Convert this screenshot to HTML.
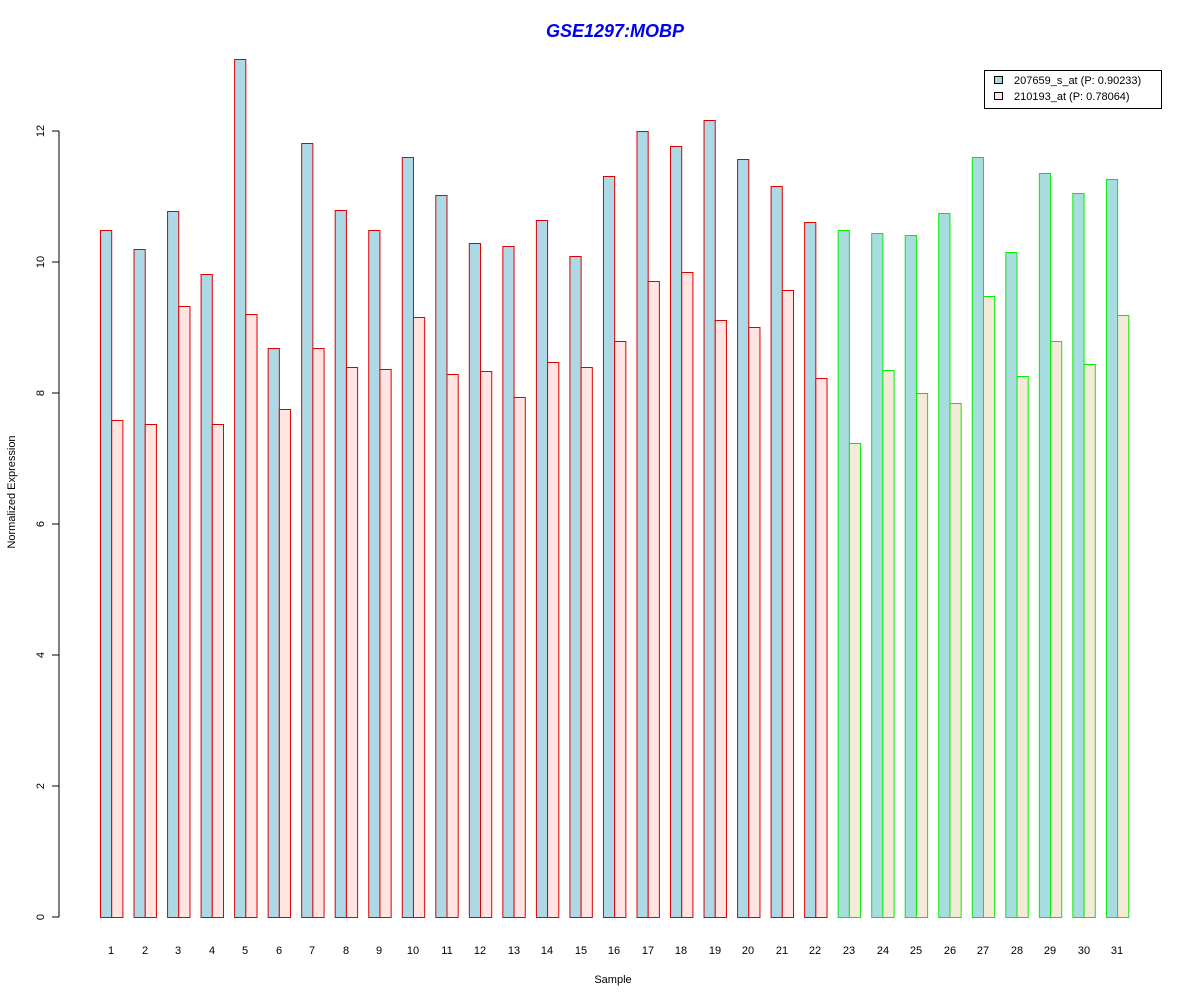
<!DOCTYPE html>
<html><head><meta charset="utf-8"><style>body{margin:0;background:#fff}svg{display:block}text{font-family:"Liberation Sans",Arial,sans-serif}</style></head>
<body>
<svg id="s" width="1200" height="1000" viewBox="0 0 1200 1000" xmlns="http://www.w3.org/2000/svg">
<rect width="1200" height="1000" fill="#fff"/>
<text x="615" y="37" text-anchor="middle" font-size="18" font-weight="bold" font-style="italic" fill="#0000ee">GSE1297:MOBP</text>
<g id="bars"></g>
<line x1="59" y1="131" x2="59" y2="917" stroke="#000"/>
<g stroke="#000">
<line x1="52" y1="917" x2="59" y2="917"/><line x1="52" y1="786" x2="59" y2="786"/><line x1="52" y1="655" x2="59" y2="655"/><line x1="52" y1="524" x2="59" y2="524"/><line x1="52" y1="393" x2="59" y2="393"/><line x1="52" y1="262" x2="59" y2="262"/><line x1="52" y1="131" x2="59" y2="131"/>
</g>
<g font-size="11" text-anchor="middle" fill="#000">
<text transform="translate(44,917) rotate(-90)">0</text>
<text transform="translate(44,786) rotate(-90)">2</text>
<text transform="translate(44,655) rotate(-90)">4</text>
<text transform="translate(44,524) rotate(-90)">6</text>
<text transform="translate(44,393) rotate(-90)">8</text>
<text transform="translate(44,262) rotate(-90)">10</text>
<text transform="translate(44,131) rotate(-90)">12</text>
<text transform="translate(15,492) rotate(-90)">Normalized Expression</text>
<text x="613" y="983">Sample</text>
</g>
<g id="xl" font-size="11" text-anchor="middle" fill="#000">
<text x="111" y="954">1</text><text x="145" y="954">2</text><text x="178" y="954">3</text><text x="212" y="954">4</text><text x="245" y="954">5</text><text x="279" y="954">6</text><text x="312" y="954">7</text><text x="346" y="954">8</text><text x="379" y="954">9</text><text x="413" y="954">10</text><text x="447" y="954">11</text><text x="480" y="954">12</text><text x="514" y="954">13</text><text x="547" y="954">14</text><text x="581" y="954">15</text><text x="614" y="954">16</text><text x="648" y="954">17</text><text x="681" y="954">18</text><text x="715" y="954">19</text><text x="748" y="954">20</text><text x="782" y="954">21</text><text x="815" y="954">22</text><text x="849" y="954">23</text><text x="883" y="954">24</text><text x="916" y="954">25</text><text x="950" y="954">26</text><text x="983" y="954">27</text><text x="1017" y="954">28</text><text x="1050" y="954">29</text><text x="1084" y="954">30</text><text x="1117" y="954">31</text>
</g>
<rect x="984.5" y="70.5" width="177" height="38" fill="#fff" stroke="#000"/>
<rect x="994.5" y="76.5" width="8" height="7" fill="#add8e6" stroke="#000"/>
<rect x="994.5" y="92.5" width="8" height="7" fill="#ffe4e1" stroke="#000"/>
<g font-size="11" fill="#000">
<text x="1014" y="84">207659_s_at (P: 0.90233)</text>
<text x="1014" y="100">210193_at (P: 0.78064)</text>
</g>
</svg>
<script>
var d=[[230,420],[249,424],[211,306],[274,424],[59,314],[348,409],[143,348],[210,367],[230,369],[157,317],[195,374],[243,371],[246,397],[220,362],[256,367],[176,341],[131,281],[146,272],[120,320],[159,327],[186,290],[222,378],[230,443],[233,370],[235,393],[213,403],[157,296],[252,376],[173,341],[193,364],[179,315]];
var g=document.getElementById('bars'),h='';
for(var i=0;i<31;i++){var x=100+i*33.53,gr=i>=22,st=gr?'#00ee00':'#dd0000';
var f1=gr?'#a8dde0':'#add8e6',f2=gr?'#f3ead8':'#ffe4e1';
h+='<rect x="'+(x+0.5)+'" y="'+(d[i][0]+0.5)+'" width="11.2" height="'+(917-d[i][0])+'" fill="'+f1+'" stroke="'+st+'"/>';
h+='<rect x="'+(x+11.7)+'" y="'+(d[i][1]+0.5)+'" width="11.2" height="'+(917-d[i][1])+'" fill="'+f2+'" stroke="'+st+'"/>';}
g.innerHTML=h;
</script>
</body></html>
